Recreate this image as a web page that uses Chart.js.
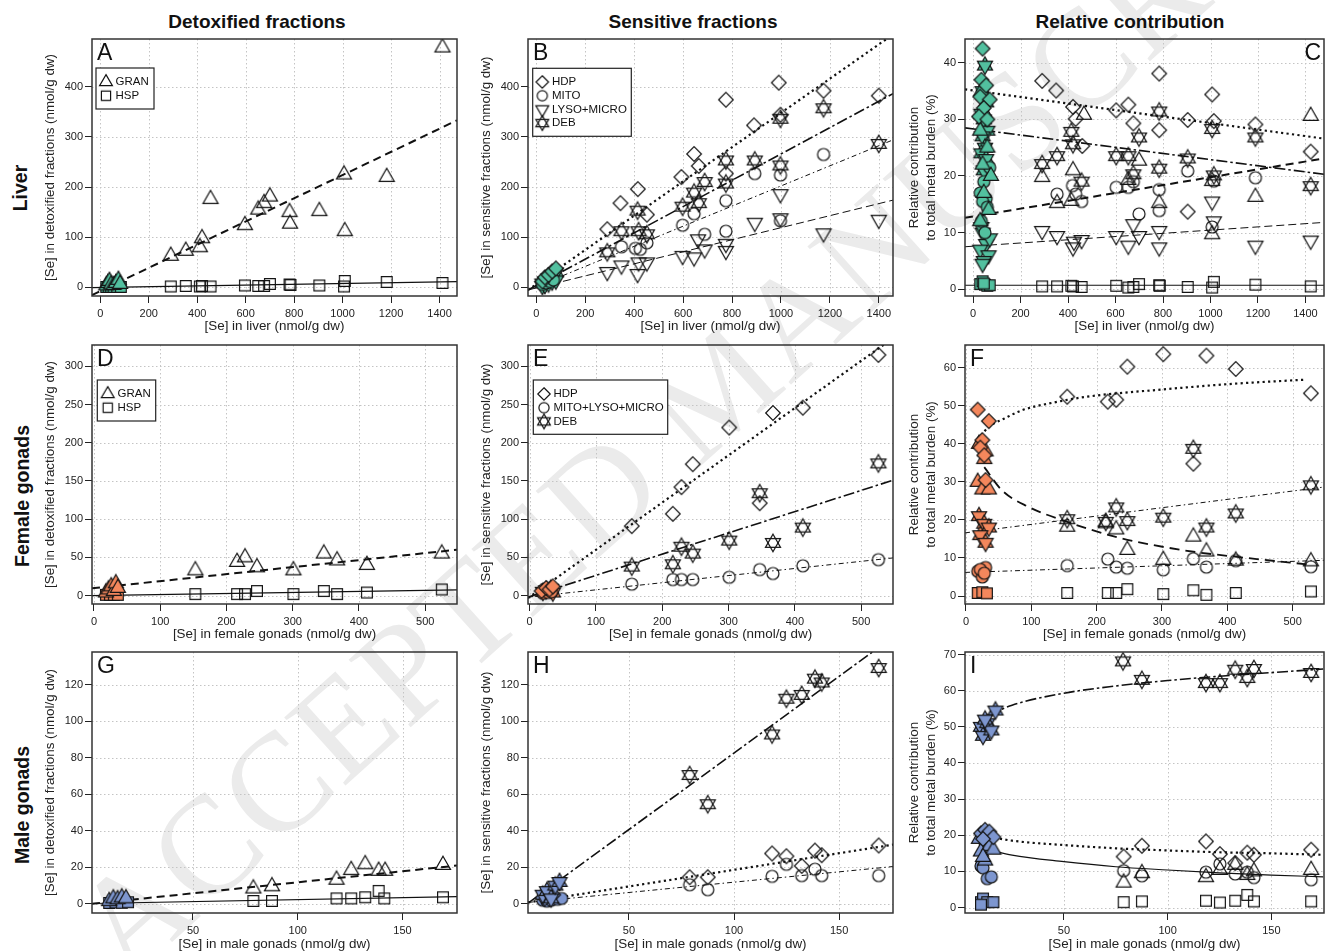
<!DOCTYPE html>
<html><head><meta charset="utf-8"><title>Se subcellular partitioning</title>
<script src="https://cdn.jsdelivr.net/npm/chart.js@4.4.1/dist/chart.umd.min.js"></script>
<style>
html,body{margin:0;padding:0;background:#fff;}
body{position:relative;width:1331px;height:951px;overflow:hidden;font-family:'Liberation Sans',Arial,Helvetica,sans-serif;color:#111;}
canvas{position:absolute;}
.wm{position:absolute;left:95px;top:878px;font-family:'Liberation Serif','DejaVu Serif',serif;font-size:140px;line-height:140px;color:#ebebeb;white-space:nowrap;transform-origin:0 50%;transform:rotate(-42deg);letter-spacing:1px;}
.ct{position:absolute;top:11px;line-height:22px;font-weight:bold;font-size:19px;transform:translateX(-50%);white-space:nowrap;}
.rl{position:absolute;font-weight:bold;font-size:19.5px;line-height:22px;white-space:nowrap;transform:translate(-50%,-50%) rotate(-90deg);}
</style></head><body>
<div class="wm">ACCEPTED MANUSCRIPT</div>
<div class="ct" style="left:257px">Detoxified fractions</div>
<div class="ct" style="left:693px">Sensitive fractions</div>
<div class="ct" style="left:1130px">Relative contribution</div>
<div class="rl" style="left:20px;top:188px">Liver</div>
<div class="rl" style="left:22px;top:496px">Female gonads</div>
<div class="rl" style="left:22px;top:805px">Male gonads</div>
<script>
// ---------------- tick values ----------------
const ticksLiverX = [0, 200, 400, 600, 800, 1000, 1200, 1400];
const ticksFemaleX = [0, 100, 200, 300, 400, 500];
const ticksMaleX = [50, 100, 150];
const ticksLiverConcY = [0, 100, 200, 300, 400];
const ticksLiverPctY = [0, 10, 20, 30, 40];
const ticksFemaleConcY = [0, 50, 100, 150, 200, 250, 300];
const ticksFemalePctY = [0, 10, 20, 30, 40, 50, 60];
const ticksMaleConcY = [0, 20, 40, 60, 80, 100, 120];
const ticksMalePctY = [0, 10, 20, 30, 40, 50, 60, 70];

// ---------------- legend labels ----------------
const legendDetox = ['GRAN', 'HSP'];
const legendLiverSens = ['HDP', 'MITO', 'LYSO+MICRO', 'DEB'];
const legendGonadSens = ['HDP', 'MITO+LYSO+MICRO', 'DEB'];

// ---------------- Panel A: liver, detoxified ----------------
const A_GRAN = [[291,63],[353,73],[411,80],[420,98],[455,176],[597,124],[652,155],[676,168],[700,181],[781,150],[783,127],[904,152],[1006,225],[1009,112],[1182,220],[1412,478]];
const A_HSP = [[291,2],[353,3],[411,2],[420,3],[455,2],[597,4],[652,3],[676,3],[700,7],[781,6],[785,5],[904,4],[1006,2],[1009,13],[1182,11],[1412,9]];
const A_GRAN_ctrl = [[25,4],[32,9],[38,13],[45,6],[55,5],[65,9],[75,15],[82,7]];
const A_HSP_ctrl = [[25,1],[35,1],[45,1],[55,1],[70,1],[85,1]];
const A_GRAN_fit = [[-34,-15],[1472,333]];
const A_HSP_fit = [[-34,-0.5],[1472,11.5]];

// ---------------- Panel B: liver, sensitive ----------------
const B_HDP = [[290,116],[344,168],[415,196],[452,145],[593,220],[645,266],[664,242],[775,374],[775,227],[890,323],[991,408],[998,344],[1174,392],[1400,382]];
const B_MITO = [[348,81],[405,78],[425,76],[452,89],[598,124],[645,147],[688,106],[775,173],[775,112],[893,227],[998,224],[998,133],[1174,265]];
const B_LYSO = [[290,31],[348,44],[414,27],[418,50],[452,50],[598,63],[645,60],[661,96],[688,76],[775,73],[775,87],[893,129],[998,186],[998,138],[1174,108],[1400,135]];
const B_DEB = [[290,70],[348,112],[414,153],[418,112],[452,106],[598,161],[645,189],[664,168],[688,210],[775,253],[775,207],[893,253],[998,336],[998,243],[1174,357],[1400,286]];
const B_HDP_ctrl = [[25,12],[35,20],[50,25],[65,32],[80,38]];
const B_MITO_ctrl = [[25,6],[40,9],[55,12],[70,15]];
const B_LYSO_ctrl = [[25,3],[35,5],[50,8],[65,12],[80,14]];
const B_DEB_ctrl = [[25,8],[35,12],[50,18],[65,24],[80,30]];
const B_HDP_fit = [[-34,-5],[1458,504]];
const B_DEB_fit = [[-34,-5],[1458,386]];
const B_MITO_fit = [[-34,-5],[1458,294]];
const B_LYSO_fit = [[-34,-5],[1458,174]];

// ---------------- Panel C: liver, relative contribution (%) ----------------
const C_HDP = [[291,36.8],[350,35.1],[421,32.2],[432,30.1],[460,25.3],[603,31.6],[654,32.6],[675,29.3],[784,38.1],[784,28.1],[904,29.9],[904,13.7],[1007,34.4],[1014,29.7],[1189,29.1],[1422,24.3]];
const C_MITO = [[354,16.8],[419,18.3],[432,16.8],[457,15.5],[603,18.0],[654,18.0],[675,19.0],[699,13.3],[784,17.6],[784,13.9],[904,20.9],[1014,19.1],[1007,11.0],[1189,19.7]];
const C_GRAN = [[291,19.8],[354,15.2],[421,21.0],[414,15.6],[467,30.8],[654,19.3],[699,22.7],[784,15.2],[1007,9.7],[1007,19.1],[1189,16.3],[1422,30.6]];
const C_LYSO = [[291,10.3],[354,9.4],[421,7.4],[425,8.4],[457,8.7],[603,9.4],[654,7.7],[675,11.5],[699,9.4],[784,10.3],[784,7.4],[1007,15.5],[1014,12.0],[1189,7.7],[1422,8.6]];
const C_DEB = [[291,22.1],[354,23.5],[414,27.8],[421,25.6],[457,19.0],[603,23.5],[654,23.5],[675,20.3],[699,26.8],[784,31.4],[784,21.3],[904,23.1],[1007,28.3],[1014,20.1],[1189,26.8],[1422,18.2]];
const C_HSP = [[291,0.5],[354,0.5],[414,0.6],[421,0.5],[457,0.4],[603,0.6],[654,0.3],[675,0.4],[699,0.9],[784,0.7],[786,0.6],[904,0.4],[1007,0.3],[1014,1.3],[1189,0.8],[1422,0.5]];
const C_HDP_ctrl = [[40,42.5],[35,37],[55,36],[30,34],[70,33.5],[45,32],[25,30.5],[60,30]];
const C_GRAN_ctrl = [[35,35],[50,31],[30,28],[60,25],[40,22],[75,20],[45,17],[65,14],[30,12]];
const C_MITO_ctrl = [[45,19],[70,21.5],[30,17],[55,16],[40,15.5],[60,14.5],[35,12],[50,10]];
const C_LYSO_ctrl = [[40,10],[55,8],[30,7],[65,6],[45,5],[40,4.5],[70,9],[35,11]];
const C_DEB_ctrl = [[50,39.5],[40,35],[55,33],[35,31],[45,30],[60,28],[40,27],[50,25],[35,24],[55,23],[45,21]];
const C_HSP_ctrl = [[30,0.9],[40,1.4],[50,0.8],[60,0.6],[70,0.7],[45,1.0]];
const C_HDP_fit = [[-34,35.3],[1478,26.6]];
const C_DEB_fit = [[-34,28.5],[1478,20.3]];
const C_GRAN_fit = [[-34,12.6],[1478,23.1]];
const C_LYSO_fit = [[-34,7.5],[1478,11.8]];
const C_HSP_fit = [[-34,0.7],[1478,0.7]];

// ---------------- Panel D: female gonads, detoxified ----------------
const D_GRAN = [[153,33],[216,44],[228,50],[246,37],[301,33],[347,55],[367,46],[412,40],[525,55]];
const D_HSP = [[153,2],[216,2],[228,2],[246,6],[301,2],[347,6],[367,2],[412,4],[525,8]];
const D_GRAN_ctrl = [[18,4],[22,8],[26,12],[30,6],[33,16],[36,10]];
const D_HSP_ctrl = [[18,1],[24,1],[30,1],[36,1]];
const D_GRAN_fit = [[-3,9.5],[548,60]];
const D_HSP_fit = [[-3,0],[548,7.6]];

// ---------------- Panel E: female gonads, sensitive ----------------
const E_HDP = [[154,91],[216,107],[229,142],[246,172],[301,220],[347,121],[367,239],[412,246],[526,315]];
const E_MITO = [[154,15],[216,21],[229,21],[246,21],[301,24],[347,34],[367,29],[412,39],[526,47]];
const E_DEB = [[154,38],[216,41],[229,64],[246,55],[301,72],[347,134],[367,69],[412,89],[526,173]];
const E_HDP_ctrl = [[18,6],[25,10],[30,8],[35,12]];
const E_MITO_ctrl = [[20,3],[28,4],[33,5]];
const E_DEB_ctrl = [[20,5],[25,7],[32,9],[35,4]];
const E_HDP_fit = [[-2.5,-3.4],[548,337]];
const E_DEB_fit = [[-2.5,-2],[548,151]];
const E_MITO_fit = [[-2.5,-2],[548,49.3]];

// ---------------- Panel F: female gonads, relative contribution (%) ----------------
const F_HDP = [[155,52.4],[217,51.1],[230,51.6],[247,60.3],[302,63.6],[348,34.8],[368,63.2],[413,59.7],[528,53.3]];
const F_GRAN = [[155,18.2],[214,19.1],[230,17.5],[247,12.1],[302,9.5],[348,15.6],[368,11.7],[413,9.3],[528,9.1]];
const F_MITO = [[155,8.0],[217,9.7],[230,7.6],[247,7.3],[302,6.9],[348,9.8],[368,7.6],[413,9.3],[528,7.7]];
const F_DEB = [[155,20.2],[214,19.5],[230,23.3],[247,19.7],[302,20.6],[348,38.7],[368,18.0],[413,21.7],[528,29.1]];
const F_HSP = [[155,0.8],[217,0.8],[230,0.8],[247,1.8],[302,0.5],[348,1.5],[368,0.3],[413,0.8],[528,1.2]];
const F_HDP_ctrl = [[18,49],[35,46],[25,41],[22,39],[30,30.5],[28,37]];
const F_GRAN_ctrl = [[20,40],[30,38],[18,30],[25,28],[35,28],[28,36]];
const F_DEB_ctrl = [[20,21],[28,19],[35,18],[22,16],[30,14]];
const F_MITO_ctrl = [[18,6.5],[25,5],[30,7.5],[22,7],[28,6]];
const F_HSP_ctrl = [[18,0.8],[25,1.0],[32,0.7]];
const F_HDP_fit = [[23,42.2],[35,44.5],[58,46.6],[85,48.8],[135,50.9],[185,52.4],[300,54.3],[409,55.8],[521,56.9]];
const F_GRAN_fit = [[28,33.9],[55,27.8],[95,23.5],[155,19.5],[235,15.3],[334,12],[430,10],[529,8.2]];
const F_DEB_fit = [[-1.5,16.6],[550,28.7]];
const F_MITO_fit = [[-1.5,6.2],[550,9.4]];

// ---------------- Panel G: male gonads, detoxified ----------------
const G_GRAN = [[78.8,8.4],[87.7,9.6],[118.5,13.2],[125.5,18.5],[132.2,21.7],[138.6,18.1],[141.7,18.1],[169.3,21.3]];
const G_HSP = [[78.8,1.6],[87.7,1.6],[118.5,3.0],[125.5,3.0],[132.2,3.6],[138.6,7.1],[141.3,3.0],[169.3,3.6]];
const G_GRAN_ctrl = [[10,1.5],[12,3],[14,2.5],[16,3.5],[18,3]];
const G_HSP_ctrl = [[10,0.5],[13,0.8],[16,0.6],[19,0.9]];
const G_GRAN_fit = [[1.8,0],[176,21]];
const G_HSP_fit = [[1.8,0.2],[176,4]];

// ---------------- Panel H: male gonads, sensitive ----------------
const H_DEB = [[78.9,70.6],[87.5,54.6],[118.1,92.8],[124.9,112.4],[132.2,114.5],[138.5,123.4],[141.7,121.3],[168.8,129.2]];
const H_HDP = [[78.9,14.6],[87.5,14.6],[118.1,27.6],[124.9,26.1],[132.2,20.8],[138.5,29.2],[141.7,26.7],[168.8,32]];
const H_MITO = [[78.9,10.5],[87.5,7.8],[118.1,15.1],[124.9,21.7],[132.2,15.5],[138.5,19.0],[141.7,15.5],[168.8,15.5]];
const H_DEB_ctrl = [[9,5],[11,7],[13,3],[15,10],[17,12]];
const H_HDP_ctrl = [[10,3],[14,5]];
const H_MITO_ctrl = [[9,2],[11,1.5],[13,2],[16,2.5],[18,3]];
const H_DEB_fit = [[2,0.4],[176,146.5]];
const H_HDP_fit = [[2,0.8],[176,32.5]];
const H_MITO_fit = [[2,0.8],[176,20.5]];

// ---------------- Panel I: male gonads, relative contribution (%) ----------------
const I_DEB = [[78.5,68.1],[87.6,63.0],[118.5,62.1],[125.2,62.1],[132.6,65.8],[138.4,63.5],[141.6,66.0],[169.2,64.9]];
const I_HDP = [[78.8,14.1],[87.6,17.1],[118.5,18.3],[125.2,14.8],[132.6,12.3],[138.4,15.2],[141.6,14.6],[169.2,16.0]];
const I_GRAN = [[78.8,6.9],[87.6,9.5],[118.5,8.4],[125.2,10.4],[132.6,11.8],[138.4,9.0],[141.6,10.0],[169.2,10.4]];
const I_MITO = [[78.8,10.2],[87.6,8.8],[118.5,9.8],[125.2,12.1],[132.6,9.3],[138.4,9.8],[141.6,8.3],[169.2,7.7]];
const I_HSP = [[78.8,1.5],[87.6,1.7],[118.5,1.9],[125.2,1.4],[132.6,1.9],[138.4,3.5],[141.6,1.7],[169.2,1.7]];
const I_DEB_ctrl = [[10,50],[11,47.5],[13,51],[15,49],[17,54.5],[12,52]];
const I_HDP_ctrl = [[10,20.5],[12,21.5],[14,21],[16,19.5],[11,19]];
const I_GRAN_ctrl = [[9,19],[10,15.5],[12,13],[14,17],[16,16],[11,14]];
const I_MITO_ctrl = [[10,11.5],[11,11],[13,8],[15,8.5],[12,18]];
const I_HSP_ctrl = [[10,1.5],[11,2.5],[13,1.5],[16,1.5],[10,0.8]];
const I_DEB_fit = [[13.9,53.3],[25,56],[50,59.3],[75,61.3],[100,62.8],[125,64],[150,65],[175,66]];
const I_HDP_fit = [[13.9,19.6],[25,18.5],[50,17.3],[75,16.4],[100,15.8],[125,15.3],[150,15.0],[175,14.6]];
const I_GRAN_fit = [[13.9,16],[25,14.5],[50,12.7],[75,11.3],[100,10.4],[125,9.6],[150,9.0],[175,8.5]];

// ---------------- styling ----------------
const FONT = "'Liberation Sans', Arial, Helvetica, sans-serif";
Chart.defaults.font.family = FONT;
Chart.defaults.color = '#222';
const GREEN = '#52c09f', ORANGE = '#f4875c', BLUE = '#7d96cf';
const LS = {
  GRAN: {dash: [8, 5], w: 2},
  HSP: {dash: [], w: 1.2},
  HDP: {dash: [2.2, 3.3], w: 2.2},
  DEB: {dash: [11, 3, 2.5, 3], w: 1.6},
  MITO: {dash: [5, 3, 1.5, 3], w: 1},
  LYSO: {dash: [8, 4], w: 1},
  FGRAN: {dash: [10, 6], w: 1.8}
};

const markerCache = {};
function marker(shape, fill, k) {
  k = k || 1;
  const key = shape + '|' + (fill || '') + '|' + k;
  if (markerCache[key]) return markerCache[key];
  const S = 24, c = document.createElement('canvas');
  c.width = S; c.height = S;
  const g = c.getContext('2d');
  const m = S / 2;
  g.lineWidth = 1.2; g.strokeStyle = '#141414'; g.lineJoin = 'miter';
  const paint = () => { if (fill) { g.fillStyle = fill; g.fill(); } g.stroke(); };
  const tri = (r, up) => {
    const s = up ? 1 : -1;
    g.beginPath();
    g.moveTo(m, m - s * r);
    g.lineTo(m + 0.866 * r, m + s * r / 2);
    g.lineTo(m - 0.866 * r, m + s * r / 2);
    g.closePath(); paint();
  };
  if (shape === 'tri') tri(8.7 * k, true);
  else if (shape === 'dtri') tri(8.7 * k, false);
  else if (shape === 'star') { tri(8.7 * k, true); tri(8.7 * k, false); }
  else if (shape === 'sq') { const h = 5.4 * k; g.beginPath(); g.rect(m - h, m - h, 2 * h, 2 * h); paint(); }
  else if (shape === 'dia') { const h = 7.3 * k; g.beginPath(); g.moveTo(m, m - h); g.lineTo(m + h, m); g.lineTo(m, m + h); g.lineTo(m - h, m); g.closePath(); paint(); }
  else if (shape === 'circ') { g.beginPath(); g.arc(m, m, 6 * k, 0, Math.PI * 2); paint(); }
  markerCache[key] = c;
  return c;
}

const toXY = a => a.map(p => ({x: p[0], y: p[1]}));
function pts(arr, shape, fill, label) {
  return {label: label, data: toXY(arr), pointStyle: marker(shape, fill), pointRadius: 8, pointHoverRadius: 8,
          showLine: false, order: fill ? 0 : 2};
}
function fit(arr, st, label) {
  const curve = arr.length > 2;
  return {label: label, data: toXY(arr), showLine: true, pointRadius: 0, pointHoverRadius: 0,
          borderColor: '#111', borderWidth: st.w, borderDash: st.dash, borderCapStyle: 'butt',
          backgroundColor: 'transparent', fill: false, tension: curve ? 0.4 : 0,
          cubicInterpolationMode: curve ? 'monotone' : 'default', order: 1};
}

const COLS = [{l: 30, w: 436, pr: 5, tp: 12.3, yw: 62}, {l: 466, w: 436, pr: 5, tp: 12.5, yw: 62}, {l: 902, w: 431, pr: 0, tp: 4.6, yw: 63}];
const ROWS = [{t: 30, h: 306, pt: 5, xh: 40, tb: 2.8}, {t: 336, h: 307, pt: 7, xh: 39, tb: 2.0}, {t: 643, h: 308, pt: 9, xh: 38, tb: 0.3}];
const TITLE_SIZE = 13.4;

function panel(p) {
  const col = COLS[p.col], row = ROWS[p.row];
  const cv = document.createElement('canvas');
  cv.width = col.w; cv.height = row.h;
  cv.style.left = col.l + 'px'; cv.style.top = row.t + 'px';
  cv.style.width = col.w + 'px'; cv.style.height = row.h + 'px';
  document.body.appendChild(cv);
  const ox = col.l, oy = row.t;
  const decor = {
    id: 'decor' + p.letter,
    beforeDatasetsDraw(chart) {
      const {ctx, chartArea: a, scales} = chart;
      ctx.save();
      ctx.beginPath(); ctx.rect(a.left, a.top, a.right - a.left, a.bottom - a.top); ctx.clip();
      ctx.strokeStyle = '#c4c4c4'; ctx.lineWidth = 1; ctx.setLineDash([1.5, 2.5]);
      p.xt.forEach(v => { const q = Math.round(scales.x.getPixelForValue(v)) + 0.5; ctx.beginPath(); ctx.moveTo(q, a.top); ctx.lineTo(q, a.bottom); ctx.stroke(); });
      p.yt.forEach(v => { const q = Math.round(scales.y.getPixelForValue(v)) + 0.5; ctx.beginPath(); ctx.moveTo(a.left, q); ctx.lineTo(a.right, q); ctx.stroke(); });
      ctx.restore();
    },
    afterDatasetsDraw(chart) {
      const {ctx, chartArea: a} = chart;
      ctx.save();
      ctx.setLineDash([]);
      ctx.strokeStyle = '#333'; ctx.lineWidth = 1.5;
      ctx.strokeRect(a.left, a.top, a.right - a.left, a.bottom - a.top);
      ctx.fillStyle = '#111';
      ctx.font = '23px ' + FONT; ctx.textBaseline = 'alphabetic';
      if (p.letterRight) { ctx.textAlign = 'right'; ctx.fillText(p.letter, p.letterRight - ox, a.top + 20.5); }
      else { ctx.textAlign = 'left'; ctx.fillText(p.letter, a.left + 5, a.top + 20.5); }
      const L = p.legend;
      if (L) {
        ctx.fillStyle = '#fff'; ctx.fillRect(L.x - ox, L.y - oy, L.w, L.h);
        ctx.strokeStyle = '#222'; ctx.lineWidth = 1.2;
        ctx.strokeRect(L.x - ox, L.y - oy, L.w, L.h);
        ctx.font = '11.5px ' + FONT; ctx.fillStyle = '#111'; ctx.textBaseline = 'middle'; ctx.textAlign = 'left';
        L.labels.forEach((lab, i) => {
          const yy = L.y0 + i * L.dy - oy;
          const im = marker(L.shapes[i], null, 0.85);
          ctx.drawImage(im, L.sx - ox - im.width / 2, yy - im.height / 2);
          ctx.fillText(lab, L.tx - ox, yy);
        });
      }
      ctx.restore();
    }
  };
  new Chart(cv, {
    type: 'scatter',
    data: {datasets: p.datasets},
    options: {
      responsive: false, maintainAspectRatio: false, animation: false, devicePixelRatio: 1, events: [],
      layout: {padding: {top: row.pt, right: col.pr, left: 0, bottom: 0}},
      plugins: {legend: {display: false}, tooltip: {enabled: false}},
      scales: {
        x: {
          type: 'linear', position: 'bottom', min: p.xr[0], max: p.xr[1],
          afterBuildTicks: s => { s.ticks = p.xt.map(v => ({value: v})); },
          afterFit: s => { s.height = row.xh; s.paddingLeft = 0; s.paddingRight = 0; },
          ticks: {autoSkip: false, maxRotation: 0, minRotation: 0, padding: 4.2, color: '#222', font: {size: 11}, callback: v => String(v)},
          grid: {display: true, drawOnChartArea: false, drawTicks: true, tickLength: 7, tickColor: '#222', tickWidth: 1, color: '#222'},
          border: {display: false},
          title: {display: true, text: p.xtitle, color: '#222', font: {size: TITLE_SIZE, lineHeight: 1.0}, padding: {top: 0, bottom: row.tb}}
        },
        y: {
          type: 'linear', position: 'left', min: p.yr[0], max: p.yr[1],
          afterBuildTicks: s => { s.ticks = p.yt.map(v => ({value: v})); },
          afterFit: s => { s.width = col.yw; s.paddingTop = 0; s.paddingBottom = 0; },
          ticks: {autoSkip: false, padding: 2, color: '#222', font: {size: 11}, callback: v => String(v)},
          grid: {display: true, drawOnChartArea: false, drawTicks: true, tickLength: 7, tickColor: '#222', tickWidth: 1, color: '#222'},
          border: {display: false},
          title: {display: true, text: p.ytitle, color: '#222', font: {size: TITLE_SIZE, lineHeight: 1.22}, padding: {top: col.tp, bottom: 0}}
        }
      }
    },
    plugins: [decor]
  });
}

const T_DETOX = '[Se] in detoxified fractions (nmol/g dw)';
const T_SENS = '[Se] in sensitive fractions (nmol/g dw)';
const T_REL = ['Relative contribution', 'to total metal burden (%)'];
const X_LIVER = '[Se] in liver (nmol/g dw)';
const X_FEM = '[Se] in female gonads (nmol/g dw)';
const X_MALE = '[Se] in male gonads (nmol/g dw)';

panel({col: 0, row: 0, letter: 'A', xr: [-34, 1472], yr: [-17, 495], xt: ticksLiverX, yt: ticksLiverConcY, ytitle: T_DETOX, xtitle: X_LIVER,
  legend: {x: 96, y: 68, w: 58, h: 41, sx: 106, tx: 115.5, y0: 82, dy: 13.7, labels: legendDetox, shapes: ['tri', 'sq']},
  datasets: [fit(A_GRAN_fit, LS.GRAN), fit(A_HSP_fit, LS.HSP), pts(A_GRAN, 'tri'), pts(A_HSP, 'sq'), pts(A_GRAN_ctrl, 'tri', GREEN), pts(A_HSP_ctrl, 'sq', GREEN)]});

panel({col: 1, row: 0, letter: 'B', xr: [-34, 1458], yr: [-17, 495], xt: ticksLiverX, yt: ticksLiverConcY, ytitle: T_SENS, xtitle: X_LIVER,
  legend: {x: 532.7, y: 68.3, w: 98.6, h: 68, sx: 542.3, tx: 552, y0: 82, dy: 13.7, labels: legendLiverSens, shapes: ['dia', 'circ', 'dtri', 'star']},
  datasets: [fit(B_HDP_fit, LS.HDP), fit(B_DEB_fit, LS.DEB), fit(B_MITO_fit, LS.MITO), fit(B_LYSO_fit, LS.LYSO),
    pts(B_HDP, 'dia'), pts(B_MITO, 'circ'), pts(B_LYSO, 'dtri'), pts(B_DEB, 'star'),
    pts(B_HDP_ctrl, 'dia', GREEN), pts(B_MITO_ctrl, 'circ', GREEN), pts(B_LYSO_ctrl, 'dtri', GREEN), pts(B_DEB_ctrl, 'star', GREEN)]});

panel({col: 2, row: 0, letter: 'C', letterRight: 1321, xr: [-34, 1478], yr: [-1.2, 44.2], xt: ticksLiverX, yt: ticksLiverPctY, ytitle: T_REL, xtitle: X_LIVER,
  datasets: [fit(C_HDP_fit, LS.HDP), fit(C_DEB_fit, LS.DEB), fit(C_GRAN_fit, LS.GRAN), fit(C_LYSO_fit, LS.LYSO), fit(C_HSP_fit, LS.HSP),
    pts(C_HDP, 'dia'), pts(C_MITO, 'circ'), pts(C_GRAN, 'tri'), pts(C_LYSO, 'dtri'), pts(C_DEB, 'star'), pts(C_HSP, 'sq'),
    pts(C_HDP_ctrl, 'dia', GREEN), pts(C_GRAN_ctrl, 'tri', GREEN), pts(C_MITO_ctrl, 'circ', GREEN), pts(C_LYSO_ctrl, 'dtri', GREEN), pts(C_DEB_ctrl, 'star', GREEN), pts(C_HSP_ctrl, 'sq', GREEN)]});

panel({col: 0, row: 1, letter: 'D', xr: [-3, 548], yr: [-11, 328], xt: ticksFemaleX, yt: ticksFemaleConcY, ytitle: T_DETOX, xtitle: X_FEM,
  legend: {x: 97.3, y: 380, w: 58.4, h: 41, sx: 107.7, tx: 117.5, y0: 394, dy: 13.7, labels: legendDetox, shapes: ['tri', 'sq']},
  datasets: [fit(D_GRAN_fit, LS.GRAN), fit(D_HSP_fit, LS.HSP), pts(D_GRAN, 'tri'), pts(D_HSP, 'sq'), pts(D_GRAN_ctrl, 'tri', ORANGE), pts(D_HSP_ctrl, 'sq', ORANGE)]});

panel({col: 1, row: 1, letter: 'E', xr: [-2.5, 548], yr: [-11, 328], xt: ticksFemaleX, yt: ticksFemaleConcY, ytitle: T_SENS, xtitle: X_FEM,
  legend: {x: 533.3, y: 380, w: 134.4, h: 54.3, sx: 544, tx: 553.5, y0: 394, dy: 13.7, labels: legendGonadSens, shapes: ['dia', 'circ', 'star']},
  datasets: [fit(E_HDP_fit, LS.HDP), fit(E_DEB_fit, LS.DEB), fit(E_MITO_fit, LS.MITO),
    pts(E_HDP, 'dia'), pts(E_MITO, 'circ'), pts(E_DEB, 'star'),
    pts(E_HDP_ctrl, 'dia', ORANGE), pts(E_MITO_ctrl, 'circ', ORANGE), pts(E_DEB_ctrl, 'star', ORANGE)]});

panel({col: 2, row: 1, letter: 'F', xr: [-1.5, 548], yr: [-2.1, 66], xt: ticksFemaleX, yt: ticksFemalePctY, ytitle: T_REL, xtitle: X_FEM,
  datasets: [fit(F_HDP_fit, LS.HDP), fit(F_GRAN_fit, LS.FGRAN), fit(F_DEB_fit, LS.MITO), fit(F_MITO_fit, LS.MITO),
    pts(F_HDP, 'dia'), pts(F_GRAN, 'tri'), pts(F_MITO, 'circ'), pts(F_DEB, 'star'), pts(F_HSP, 'sq'),
    pts(F_HDP_ctrl, 'dia', ORANGE), pts(F_GRAN_ctrl, 'tri', ORANGE), pts(F_DEB_ctrl, 'star', ORANGE), pts(F_MITO_ctrl, 'circ', ORANGE), pts(F_HSP_ctrl, 'sq', ORANGE)]});

panel({col: 0, row: 2, letter: 'G', xr: [1.8, 176], yr: [-5, 138], xt: ticksMaleX, yt: ticksMaleConcY, ytitle: T_DETOX, xtitle: X_MALE,
  datasets: [fit(G_GRAN_fit, LS.GRAN), fit(G_HSP_fit, LS.HSP), pts(G_GRAN, 'tri'), pts(G_HSP, 'sq'), pts(G_GRAN_ctrl, 'tri', BLUE), pts(G_HSP_ctrl, 'sq', BLUE)]});

panel({col: 1, row: 2, letter: 'H', xr: [2, 175.6], yr: [-5, 138], xt: ticksMaleX, yt: ticksMaleConcY, ytitle: T_SENS, xtitle: X_MALE,
  datasets: [fit(H_DEB_fit, LS.DEB), fit(H_HDP_fit, LS.HDP), fit(H_MITO_fit, LS.MITO),
    pts(H_DEB, 'star'), pts(H_HDP, 'dia'), pts(H_MITO, 'circ'),
    pts(H_DEB_ctrl, 'star', BLUE), pts(H_HDP_ctrl, 'dia', BLUE), pts(H_MITO_ctrl, 'circ', BLUE)]});

panel({col: 2, row: 2, letter: 'I', xr: [2.3, 175.4], yr: [-1.5, 70.7], xt: ticksMaleX, yt: ticksMalePctY, ytitle: T_REL, xtitle: X_MALE,
  datasets: [fit(I_DEB_fit, LS.DEB), fit(I_HDP_fit, LS.HDP), fit(I_GRAN_fit, LS.HSP),
    pts(I_DEB, 'star'), pts(I_HDP, 'dia'), pts(I_GRAN, 'tri'), pts(I_MITO, 'circ'), pts(I_HSP, 'sq'),
    pts(I_DEB_ctrl, 'star', BLUE), pts(I_HDP_ctrl, 'dia', BLUE), pts(I_GRAN_ctrl, 'tri', BLUE), pts(I_MITO_ctrl, 'circ', BLUE), pts(I_HSP_ctrl, 'sq', BLUE)]});
</script>
</body></html>
